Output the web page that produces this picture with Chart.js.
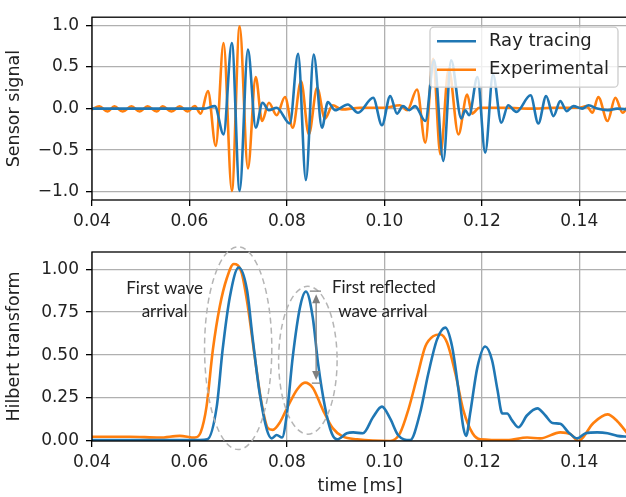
<!DOCTYPE html>
<html>
<head>
<meta charset="utf-8">
<script src="https://cdn.jsdelivr.net/npm/chart.js@4.4.1/dist/chart.umd.min.js"></script>
<style>
  html, body { margin: 0; padding: 0; background: #fff; }
  #wrap { position: relative; width: 626px; height: 497px; overflow: hidden; }
  canvas { position: absolute; left: 0; }
  #signalChart { top: 0; }
  #hilbertChart { top: 232px; }
</style>
</head>
<body>
<div id="wrap">
  <canvas id="signalChart" width="630" height="232"></canvas>
  <canvas id="hilbertChart" width="630" height="265"></canvas>
</div>
<script>
// ---- data (time in ms) ----
const xTicks = [0.04, 0.06, 0.08, 0.10, 0.12, 0.14];
const signalTicks = [-1.0, -0.5, 0.0, 0.5, 1.0];
const hilbertTicks = [0.0, 0.25, 0.5, 0.75, 1.0];

// sensor signal, ray tracing (extremes of the oscillation)
const rayTime = [0.0400, 0.0550, 0.0630, 0.0652, 0.0670, 0.0687, 0.0703, 0.0720, 0.0736, 0.0750,
  0.0763, 0.0779, 0.0806, 0.0823, 0.0839, 0.0855, 0.0872, 0.0884, 0.0899, 0.0925,
  0.0946, 0.0977, 0.0995, 0.1012, 0.1026, 0.1038, 0.1051, 0.1063, 0.1084, 0.1102,
  0.1121, 0.1137, 0.1158, 0.1166, 0.1174, 0.1191, 0.1207, 0.1223, 0.1240, 0.1254,
  0.1271, 0.1300, 0.1316, 0.1332, 0.1347, 0.1361, 0.1374, 0.1388, 0.1406, 0.1419,
  0.1437, 0.1458, 0.1478, 0.1500];
const raySignal = [0.00, 0.00, 0.00, 0.03, -0.31, 0.79, -0.99, 0.71, -0.23, 0.07,
  -0.02, 0.01, -0.18, 0.66, -0.86, 0.65, -0.23, 0.08, -0.02, 0.05,
  -0.05, 0.13, -0.20, 0.15, -0.06, 0.03, -0.02, 0.03, -0.15, 0.58,
  -0.63, 0.58, -0.12, -0.02, -0.08, 0.38, -0.53, 0.41, -0.17, 0.04,
  -0.04, 0.16, -0.18, 0.15, -0.09, 0.09, -0.03, 0.03, 0.00, 0.04,
  0.00, -0.02, 0.00, -0.01];

// sensor signal, experimental
const expTime = [0.0400, 0.0415, 0.0432, 0.0446, 0.0463, 0.0481, 0.0498, 0.0514, 0.0533, 0.0545,
  0.0563, 0.0580, 0.0596, 0.0611, 0.0623, 0.0638, 0.0654, 0.0670, 0.0687, 0.0703,
  0.0720, 0.0736, 0.0749, 0.0763, 0.0779, 0.0796, 0.0812, 0.0829, 0.0845, 0.0862,
  0.0878, 0.0894, 0.0913, 0.0950, 0.1000, 0.1032, 0.1047, 0.1067, 0.1084, 0.1100,
  0.1115, 0.1132, 0.1152, 0.1170, 0.1180, 0.1195, 0.1250, 0.1300, 0.1350, 0.1400,
  0.1415, 0.1427, 0.1439, 0.1458, 0.1474, 0.1489, 0.1500];
const expSignal = [-0.01, 0.027, -0.035, 0.027, -0.035, 0.027, -0.035, 0.027, -0.035, 0.027,
  -0.035, 0.027, -0.035, 0.03, -0.06, 0.21, -0.45, 0.79, -0.99, 0.99,
  -0.72, 0.38, -0.15, 0.07, -0.08, 0.14, -0.23, 0.33, -0.31, 0.25,
  -0.12, 0.04, -0.01, 0.01, 0.01, 0.04, -0.02, 0.23, -0.41, 0.60,
  -0.55, 0.48, -0.31, 0.17, -0.06, 0.01, 0.01, 0.00, 0.01, 0.01,
  0.03, -0.05, 0.14, -0.15, 0.13, -0.05, 0.03];

// hilbert transform, ray tracing
const rayEnvTime = [0.0400, 0.0520, 0.0621, 0.0637, 0.0656, 0.0668, 0.0683, 0.0701, 0.0718, 0.0730,
  0.0744, 0.0759, 0.0769, 0.0779, 0.0790, 0.0800, 0.0812, 0.0827, 0.0839, 0.0853,
  0.0864, 0.0878, 0.0892, 0.0903, 0.0923, 0.0936, 0.0956, 0.0977, 0.0995, 0.1012,
  0.1028, 0.1053, 0.1073, 0.1090, 0.1108, 0.1125, 0.1139, 0.1152, 0.1162, 0.1168,
  0.1176, 0.1191, 0.1207, 0.1221, 0.1232, 0.1242, 0.1252, 0.1262, 0.1275, 0.1293,
  0.1314, 0.1330, 0.1345, 0.1361, 0.1378, 0.1396, 0.1413, 0.1437, 0.1458, 0.1478,
  0.1500];
const rayEnvelope = [0.005, 0.005, 0.005, 0.01, 0.20, 0.53, 0.84, 1.01, 0.88, 0.59,
  0.28, 0.064, 0.015, 0.035, 0.02, 0.16, 0.49, 0.78, 0.87, 0.72,
  0.45, 0.20, 0.045, 0.01, 0.045, 0.05, 0.045, 0.14, 0.20, 0.13,
  0.035, 0.005, 0.16, 0.39, 0.59, 0.66, 0.55, 0.30, 0.08, 0.03,
  0.16, 0.43, 0.55, 0.47, 0.30, 0.16, 0.16, 0.12, 0.08, 0.15,
  0.19, 0.15, 0.105, 0.10, 0.05, 0.015, 0.045, 0.05, 0.045, 0.03,
  0.025];

// hilbert transform, experimental
const expEnvTime = [0.0400, 0.0477, 0.0539, 0.0580, 0.0611, 0.0623, 0.0635, 0.0648, 0.0662, 0.0677,
  0.0691, 0.0707, 0.0720, 0.0734, 0.0748, 0.0761, 0.0771, 0.0786, 0.0800, 0.0821,
  0.0837, 0.0853, 0.0874, 0.0894, 0.0915, 0.0944, 0.1012, 0.1032, 0.1049, 0.1067,
  0.1084, 0.1100, 0.1115, 0.1129, 0.1146, 0.1162, 0.1181, 0.1197, 0.1252, 0.1293,
  0.1320, 0.1361, 0.1382, 0.1398, 0.1429, 0.1458, 0.1478, 0.1500];
const expEnvelope = [0.025, 0.025, 0.02, 0.03, 0.02, 0.05, 0.20, 0.53, 0.78, 0.95,
  1.03, 0.98, 0.78, 0.49, 0.22, 0.075, 0.065, 0.11, 0.19, 0.30,
  0.34, 0.31, 0.18, 0.075, 0.025, 0.01, 0.00, 0.045, 0.18, 0.37,
  0.55, 0.61, 0.62, 0.57, 0.39, 0.18, 0.045, 0.01, 0.005, 0.02,
  0.015, 0.05, 0.04, 0.00, 0.105, 0.155, 0.115, 0.04];

// annotations, in data units of the lower plot
const annotTexts = [
  { text: 'First wave', x: 0.0549, y: 0.89 },
  { text: 'arrival', x: 0.0549, y: 0.756 },
  { text: 'First reflected', x: 0.0999, y: 0.895 },
  { text: 'wave arrival', x: 0.0997, y: 0.756 }
];
const annotEllipses = [
  { cx: 0.0700, cy: 0.54, rx: 0.0069, ry: 0.59 },
  { cx: 0.0843, cy: 0.47, rx: 0.0060, ry: 0.43 }
];
const annotArrow = { x: 0.0860, x0: 0.0847, x1: 0.0870, top: 0.872, bottom: 0.337 };

const BLUE = '#1f77b4';
const ORANGE = '#ff7f0e';
const TEXT = '#222222';
const GRID = '#b0b0b0';

Chart.defaults.font.family = 'DejaVu Sans';
Chart.defaults.color = TEXT;

function toPoints(times, values) {
  return times.map((t, i) => ({ x: t, y: values[i] }));
}

function minus(s) {
  return s.replace('-', '\u2212');
}

function lineSet(label, color, times, values) {
  return {
    label: label,
    data: toPoints(times, values),
    borderColor: color,
    backgroundColor: color,
    borderWidth: 2.6,
    pointRadius: 0,
    fill: false,
    cubicInterpolationMode: 'monotone'
  };
}

function xAxis(height, withTitle) {
  return {
    type: 'linear',
    min: 0.04,
    max: 0.15,
    afterBuildTicks: (s) => { s.ticks = xTicks.map(v => ({ value: v })); },
    afterFit: (s) => { s.height = height; },
    grid: { color: GRID, lineWidth: 1.3, tickColor: '#000', tickWidth: 1.3, tickLength: 6 },
    border: { display: false },
    ticks: { font: { size: 17 }, padding: 5, maxRotation: 0, autoSkip: false, callback: v => v.toFixed(2) },
    title: { display: withTitle, text: 'time [ms]', font: { size: 17.5 }, padding: { top: 0, bottom: 0 } }
  };
}

function yAxis(min, max, tickList, digits, title) {
  return {
    type: 'linear',
    min: min,
    max: max,
    afterBuildTicks: (s) => { s.ticks = tickList.map(v => ({ value: v })); },
    afterFit: (s) => { s.width = 92; },
    grid: { color: GRID, lineWidth: 1.3, tickColor: '#000', tickWidth: 1.3, tickLength: 6 },
    border: { display: false },
    ticks: { font: { size: 17 }, padding: 7, autoSkip: false, callback: v => minus(v.toFixed(digits)) },
    title: { display: true, text: title, font: { size: 17.5 }, padding: { top: 4, bottom: 0 } }
  };
}

const framePlugin = {
  id: 'frame',
  afterDatasetsDraw(chart) {
    const a = chart.chartArea;
    const ctx = chart.ctx;
    ctx.save();
    ctx.strokeStyle = '#000';
    ctx.lineWidth = 1.3;
    ctx.strokeRect(a.left, a.top, a.right - a.left, a.bottom - a.top);
    ctx.restore();
  }
};

const legendPlugin = {
  id: 'insideLegend',
  afterDraw(chart) {
    const ctx = chart.ctx;
    const a = chart.chartArea;
    const x0 = a.right - 198, y0 = a.top + 10, w = 188, h = 60, r = 4;
    ctx.save();
    ctx.beginPath();
    ctx.moveTo(x0 + r, y0);
    ctx.arcTo(x0 + w, y0, x0 + w, y0 + h, r);
    ctx.arcTo(x0 + w, y0 + h, x0, y0 + h, r);
    ctx.arcTo(x0, y0 + h, x0, y0, r);
    ctx.arcTo(x0, y0, x0 + w, y0, r);
    ctx.closePath();
    ctx.fillStyle = 'rgba(255,255,255,0.8)';
    ctx.fill();
    ctx.strokeStyle = '#cccccc';
    ctx.lineWidth = 1.3;
    ctx.stroke();
    chart.data.datasets.forEach((ds, i) => {
      const y = y0 + 14 + i * 28.5;
      ctx.strokeStyle = ds.borderColor;
      ctx.lineWidth = 2.6;
      ctx.beginPath();
      ctx.moveTo(x0 + 7, y);
      ctx.lineTo(x0 + 46, y);
      ctx.stroke();
      ctx.fillStyle = TEXT;
      ctx.font = '18px "DejaVu Sans"';
      ctx.textBaseline = 'middle';
      ctx.fillText(ds.label, x0 + 59, y);
    });
    ctx.restore();
  }
};

const annotationPlugin = {
  id: 'arrivals',
  afterDraw(chart) {
    const ctx = chart.ctx;
    const xs = chart.scales.x;
    const ys = chart.scales.y;
    ctx.save();

    // dashed ellipses
    ctx.strokeStyle = '#b5b5b5';
    ctx.lineWidth = 1.5;
    ctx.setLineDash([6, 4]);
    annotEllipses.forEach(e => {
      const cx = xs.getPixelForValue(e.cx);
      const cy = ys.getPixelForValue(e.cy);
      const rx = Math.abs(xs.getPixelForValue(e.cx + e.rx) - cx);
      const ry = Math.abs(ys.getPixelForValue(e.cy + e.ry) - cy);
      ctx.beginPath();
      ctx.ellipse(cx, cy, rx, ry, 0, 0, Math.PI * 2);
      ctx.stroke();
    });
    ctx.setLineDash([]);

    // double arrow between the two reflected peaks
    const ax = xs.getPixelForValue(annotArrow.x);
    const ax0 = xs.getPixelForValue(annotArrow.x0);
    const ax1 = xs.getPixelForValue(annotArrow.x1);
    const yt = ys.getPixelForValue(annotArrow.top);
    const yb = ys.getPixelForValue(annotArrow.bottom);
    ctx.strokeStyle = '#7f7f7f';
    ctx.fillStyle = '#7f7f7f';
    ctx.lineWidth = 1.3;
    ctx.beginPath();
    ctx.moveTo(ax0, yt); ctx.lineTo(ax1, yt);
    ctx.moveTo(ax0 + 2, yb); ctx.lineTo(ax1, yb);
    ctx.moveTo(ax, yt + 10); ctx.lineTo(ax, yb - 10);
    ctx.stroke();
    ctx.beginPath();
    ctx.moveTo(ax, yt + 3); ctx.lineTo(ax - 4, yt + 12); ctx.lineTo(ax + 4, yt + 12); ctx.closePath();
    ctx.moveTo(ax, yb - 3); ctx.lineTo(ax - 4, yb - 12); ctx.lineTo(ax + 4, yb - 12); ctx.closePath();
    ctx.fill();

    // labels
    ctx.fillStyle = TEXT;
    ctx.font = '17px Lato';
    ctx.textAlign = 'center';
    ctx.textBaseline = 'middle';
    annotTexts.forEach(t => {
      ctx.fillText(t.text, xs.getPixelForValue(t.x), ys.getPixelForValue(t.y));
    });
    ctx.restore();
  }
};

new Chart(document.getElementById('signalChart'), {
  type: 'line',
  data: {
    datasets: [
      lineSet('Ray tracing', BLUE, rayTime, raySignal),
      lineSet('Experimental', ORANGE, expTime, expSignal)
    ]
  },
  options: {
    responsive: false,
    animation: false,
    layout: { padding: { top: 10, right: 2, bottom: 0, left: 0 } },
    scales: {
      x: xAxis(32, false),
      y: yAxis(-1.1, 1.1, signalTicks, 1, 'Sensor signal')
    },
    plugins: { legend: { display: false }, tooltip: { enabled: false } }
  },
  plugins: [framePlugin, legendPlugin]
});

new Chart(document.getElementById('hilbertChart'), {
  type: 'line',
  data: {
    datasets: [
      lineSet('Ray tracing', BLUE, rayEnvTime, rayEnvelope),
      lineSet('Experimental', ORANGE, expEnvTime, expEnvelope)
    ]
  },
  options: {
    responsive: false,
    animation: false,
    layout: { padding: { top: 20, right: 2, bottom: 0, left: 0 } },
    scales: {
      x: xAxis(56, true),
      y: yAxis(0, 1.1, hilbertTicks, 2, 'Hilbert transform')
    },
    plugins: { legend: { display: false }, tooltip: { enabled: false } }
  },
  plugins: [framePlugin, annotationPlugin]
});
</script>
</body>
</html>
